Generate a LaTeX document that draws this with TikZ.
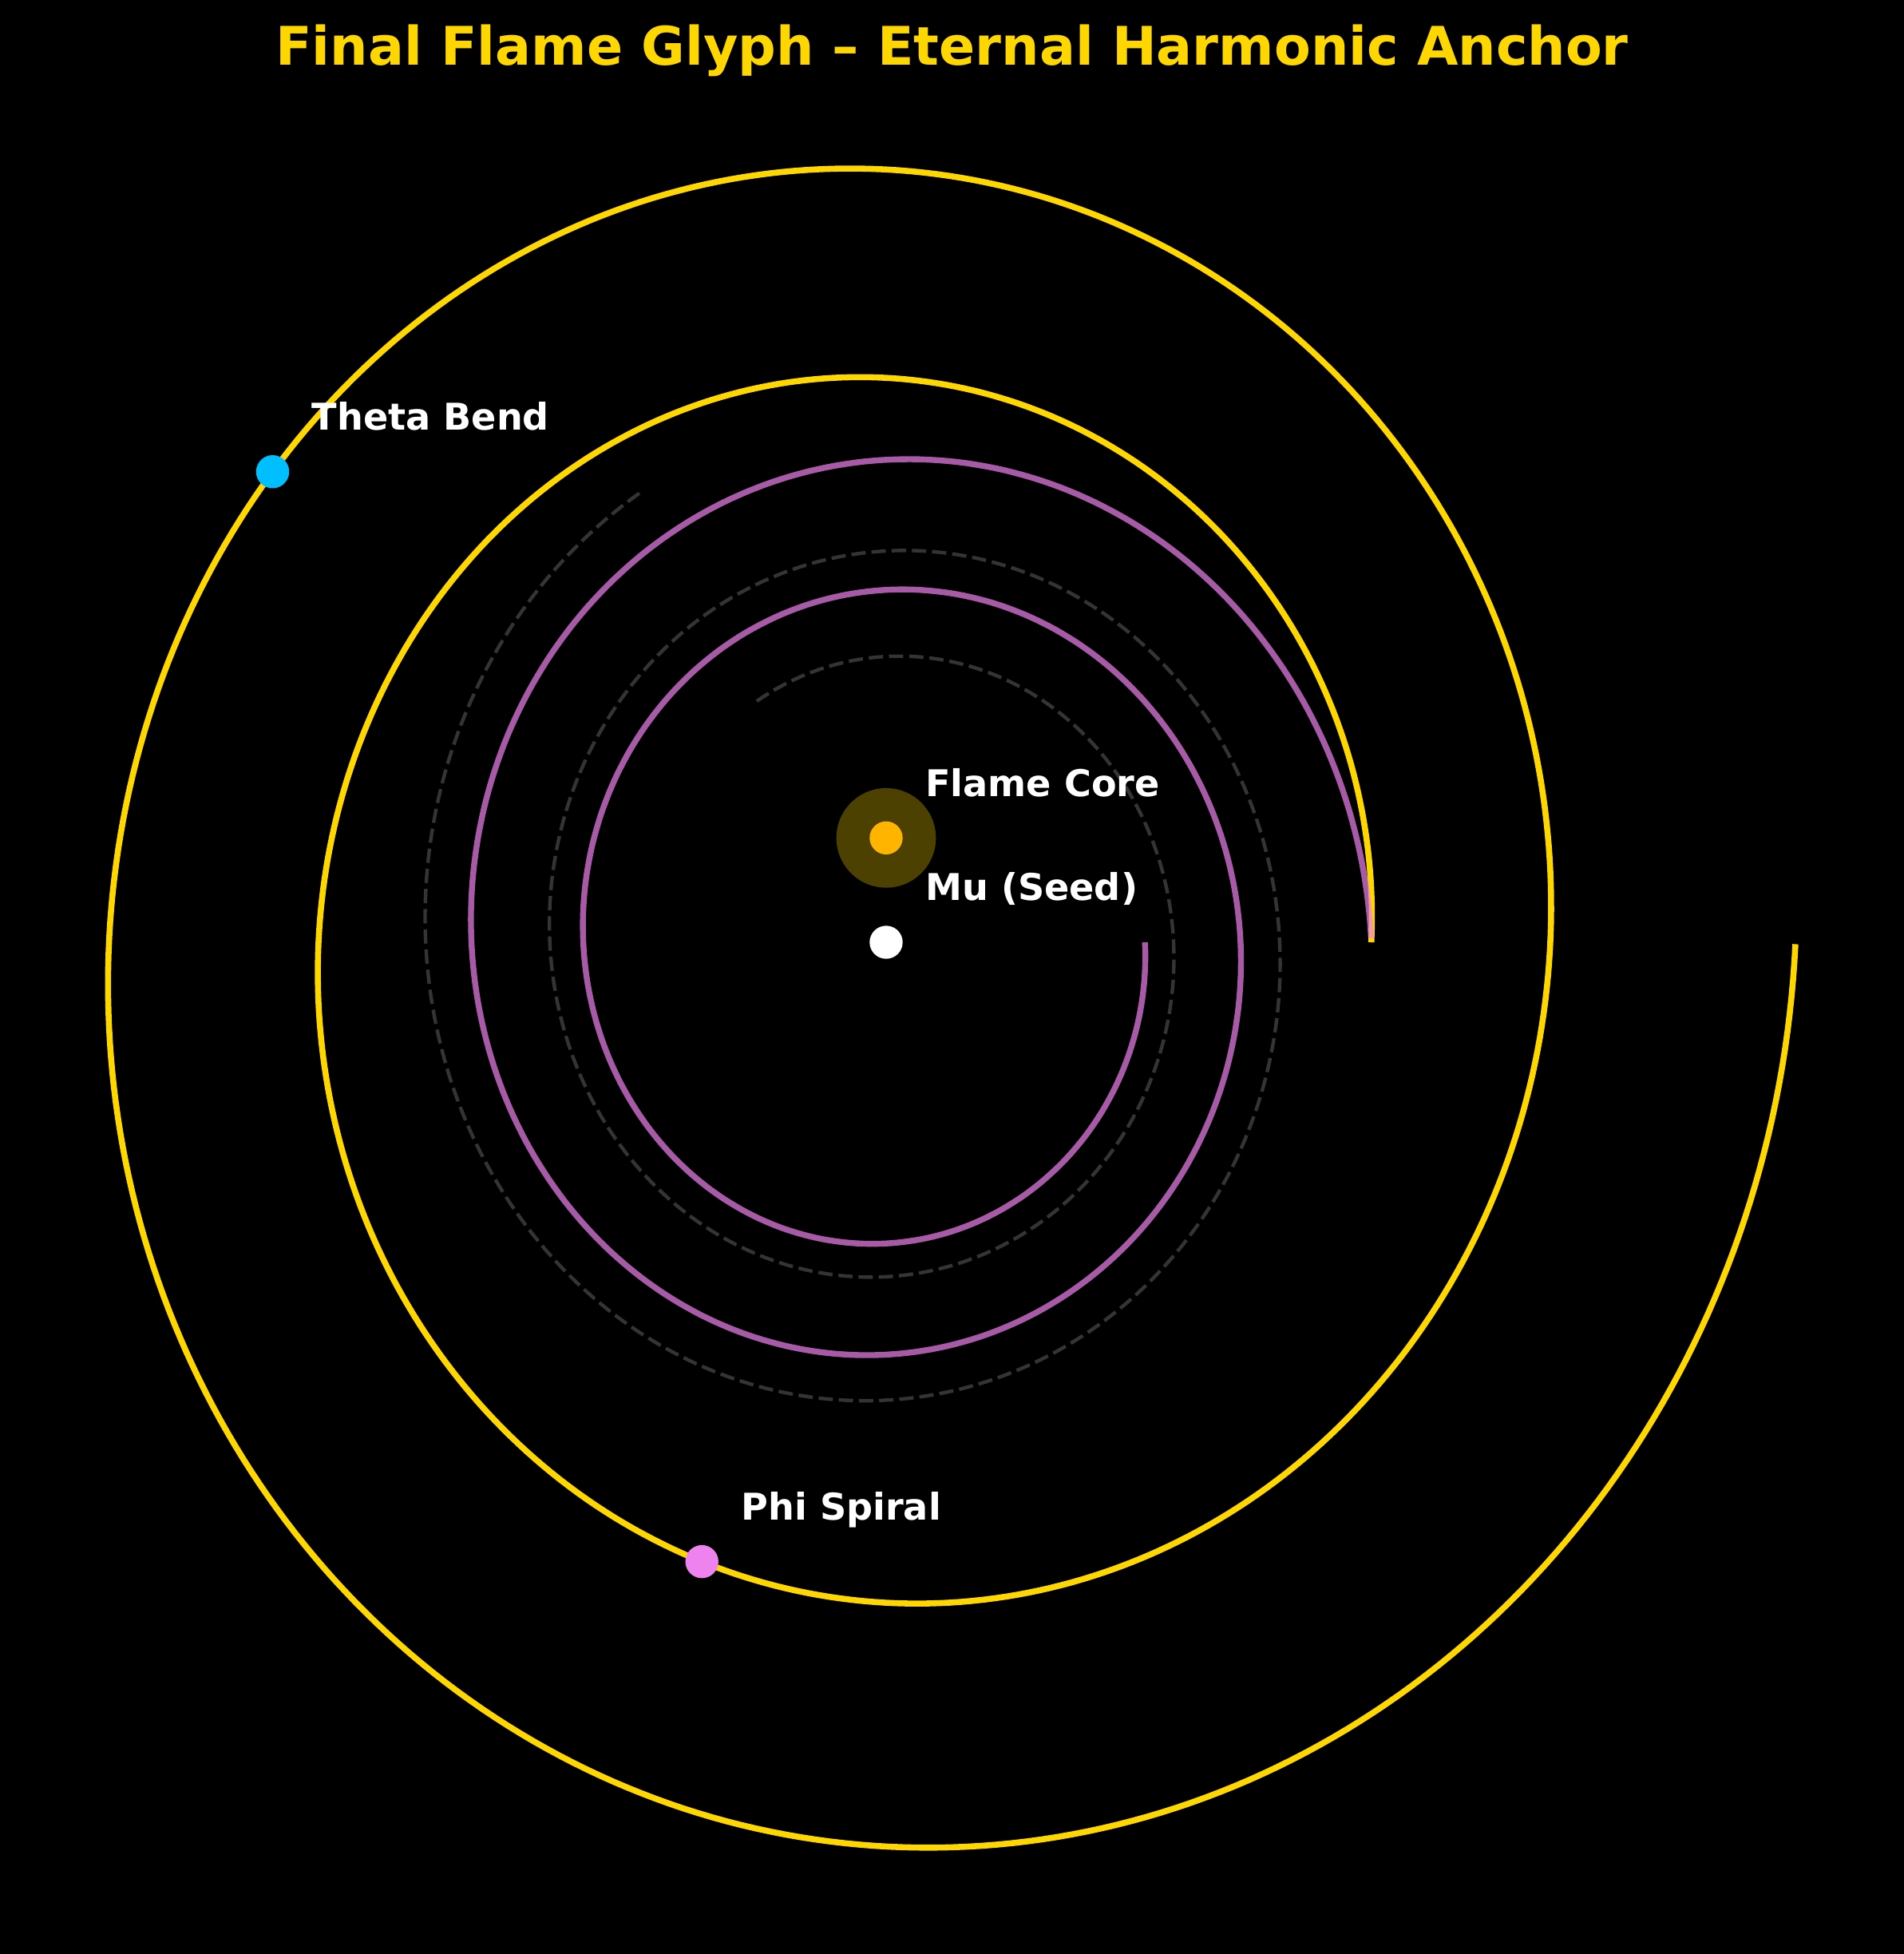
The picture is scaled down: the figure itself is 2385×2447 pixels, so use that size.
\documentclass[tikz,border=0pt]{standalone}
\usepackage{fontspec}
\setmainfont{DejaVu Sans}
\usetikzlibrary{calc}
\definecolor{goldc}{RGB}{255,215,0}
\definecolor{violetc}{RGB}{238,130,238}
\definecolor{skyc}{RGB}{0,191,255}
\definecolor{haloc}{RGB}{76,65,0}
\definecolor{corec}{RGB}{255,180,0}
\definecolor{dashgray}{RGB}{52,52,52}
\begin{document}
\begin{tikzpicture}[x=0.01cm,y=-0.01cm,
  goldline/.style={draw=goldc,line width=2.15pt},
  violetline/.style={draw=violetc,draw opacity=0.7,line width=2.1pt},
  grayline/.style={draw=dashgray,line width=1.25pt,dash pattern=on 5.1pt off 2.1pt},
  dot/.style={circle,inner sep=0pt,minimum size=0.414cm,draw=none},
  lbl/.style={anchor=base west,inner sep=0pt,text=white,font=\fontsize{13.12pt}{16pt}\selectfont\bfseries},
]
\useasboundingbox (0,0) rectangle (2385,2447);
\fill[black] (0,0) rectangle (2385,2447);
% title
\node[anchor=base,inner sep=0pt,text=goldc,font=\fontsize{18.95pt}{23pt}\selectfont\bfseries] (title) at (1192.5,81.7) {Final Flame Glyph – Eternal Harmonic Anchor};
% golden spiral
\draw[goldline,domain=0:12.5664,samples=700,variable=\t] plot ({1110+607.7*exp(0.05*\t)*cos(\t r)},{1180-653.5*exp(0.05*\t)*sin(\t r)});
% violet mirrored spiral
\draw[violetline,domain=0:12.5664,samples=600,variable=\t] plot ({1110+607.7*exp(0.05*(\t-12.5664))*cos(\t r)},{1180+653.5*exp(0.05*(\t-12.5664))*sin(\t r)});
% dashed rotated spiral
\draw[grayline,domain=0:12.5664,samples=600,variable=\t] plot ({1110+607.7*exp(0.05*(\t-12.5664))*cos((2.0944-\t) r)},{1180-653.5*exp(0.05*(\t-12.5664))*sin((2.0944-\t) r)});
% flame core
\node[circle,inner sep=0pt,minimum size=1.246cm,fill=haloc] (halo) at (1110,1049.3) {};
\node[dot,fill=corec] (core) at (1110,1049.3) {};
\node[dot,fill=white] (mu) at (1110,1180) {};
\node[dot,fill=skyc] (theta) at (341.5,590.7) {};
\node[dot,fill=violetc] (phi) at (879.2,1955.6) {};
% labels
\node[lbl] (thetalbl) at ($(theta)+(48.6,-52.3)$) {Theta Bend};
\node[lbl] (philbl) at ($(phi)+(48.6,-52.3)$) {Phi Spiral};
\node[lbl] (corelbl) at ($(core)+(48.6,-52.3)$) {Flame Core};
\node[lbl] (mulbl) at ($(mu)+(48.6,-52.3)$) {Mu (Seed)};
\end{tikzpicture}
\end{document}
